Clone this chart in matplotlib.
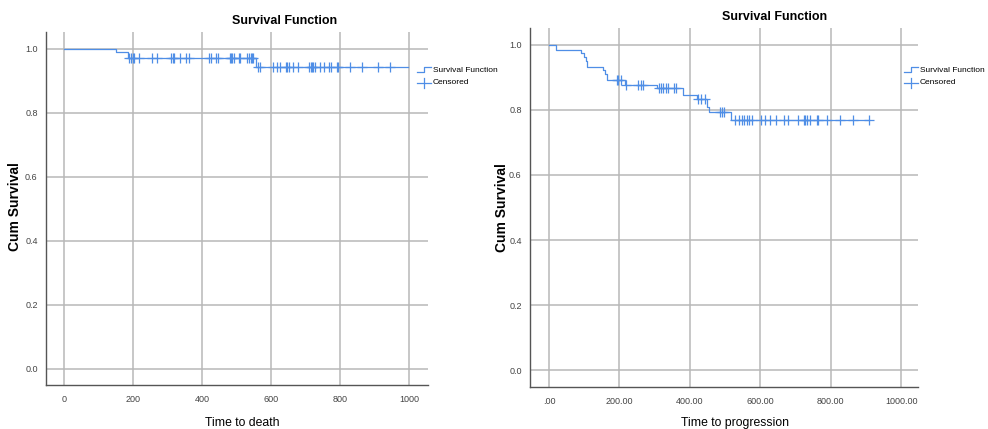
import numpy as np
import matplotlib
matplotlib.use('Agg')
import matplotlib.pyplot as plt
from matplotlib.lines import Line2D

plt.rcParams['font.family'] = ['Liberation Sans', 'DejaVu Sans']

# time to death (left panel)
death_times = [0, 151, 186, 556, 998]
death_surv = [1.0, 0.990, 0.973, 0.944, 0.944]
death_censored = [189, 194, 199, 204, 218, 254, 269, 310, 315, 320, 336, 354, 363,
                  421, 426, 441, 445, 481, 484, 488, 493, 506, 510, 530, 535, 541, 544, 549,
                  563, 568, 607, 617, 626, 643, 647, 651, 665, 679, 710, 715, 719, 723, 728,
                  742, 754, 768, 773, 790, 795, 829, 865, 911, 945]

# time to progression (right panel)
prog_times = [0, 21, 92, 100, 104, 108, 154, 160, 166, 215, 306, 381, 419, 448, 454, 517, 910]
prog_surv = [1.0, 0.985, 0.976, 0.963, 0.952, 0.932, 0.922, 0.912, 0.892, 0.878, 0.867,
             0.846, 0.834, 0.810, 0.795, 0.769, 0.769]
prog_censored = [192, 196, 204, 218, 253, 261, 267, 312, 318, 324, 331, 339, 356, 362,
                 424, 433, 443, 486, 490, 498, 527, 540, 547, 554, 561, 567, 576, 601, 614,
                 628, 645, 666, 680, 708, 723, 727, 732, 740, 761, 765, 789, 827, 863, 910]

x_ticks = [0, 200, 400, 600, 800, 1000]
y_ticks = [0.0, 0.2, 0.4, 0.6, 0.8, 1.0]

line_col = '#4f8ee6'
grid_col = '#b8b8b8'
W, H = 988, 429

fig = plt.figure(figsize=(W / 100, H / 100), dpi=100)


def fx(px):
    return px / W


def fy(py):
    return 1 - py / H


def panel(rect, times, surv, cens, xlim, ylim, xlabels):
    ax = fig.add_axes(rect)
    ax.plot(times, surv, drawstyle='steps-post', color=line_col, lw=0.9)
    idx = np.searchsorted(times, cens, side='right') - 1
    cy = np.array(surv)[idx]
    ax.plot(cens, cy, ls='none', marker='+', ms=6.5, mew=0.9, color=line_col)
    ax.set_xlim(*xlim)
    ax.set_ylim(*ylim)
    ax.set_xticks(x_ticks)
    ax.set_xticklabels(xlabels)
    ax.set_yticks(y_ticks)
    ax.set_yticklabels(['%.1f' % v for v in y_ticks])
    ax.tick_params(length=0, labelsize=6.5, labelcolor='#444444')
    ax.tick_params(axis='x', pad=7)
    ax.tick_params(axis='y', pad=6)
    ax.grid(True, color=grid_col, lw=1.1)
    ax.set_axisbelow(True)
    for s in ['top', 'right']:
        ax.spines[s].set_visible(False)
    for s in ['left', 'bottom']:
        ax.spines[s].set_color('#555555')
        ax.spines[s].set_linewidth(1.0)
    return ax


panel([fx(46), fy(385), fx(428) - fx(46), fy(32) - fy(385)],
      death_times, death_surv, death_censored, (-52, 1055), (-0.05, 1.053),
      [str(v) for v in x_ticks])
panel([fx(530), fy(387), fx(918) - fx(530), fy(28) - fy(387)],
      prog_times, prog_surv, prog_censored, (-54, 1048), (-0.052, 1.052),
      ['.00'] + ['%.2f' % v for v in x_ticks[1:]])

# titles and axis labels
fig.text(fx(285), fy(21), 'Survival Function', ha='center', va='center', fontsize=9, fontweight='bold')
fig.text(fx(775), fy(17), 'Survival Function', ha='center', va='center', fontsize=9, fontweight='bold')
fig.text(fx(15), fy(207), 'Cum Survival', rotation=90, ha='center', va='center', fontsize=10, fontweight='bold')
fig.text(fx(502), fy(208), 'Cum Survival', rotation=90, ha='center', va='center', fontsize=10, fontweight='bold')
fig.text(fx(242), fy(423), 'Time to death', ha='center', va='center', fontsize=8.8)
fig.text(fx(735), fy(423), 'Time to progression', ha='center', va='center', fontsize=8.8)


# legends
def legend(x0, x1, xs, y1):
    step_x = [x0, xs, xs, x1]
    step_y = [y1 + 1.5, y1 + 1.5, y1 - 3, y1 - 3]
    fig.add_artist(Line2D([fx(v) for v in step_x], [fy(v) for v in step_y],
                          transform=fig.transFigure, color=line_col, lw=0.9))
    yc = y1 + 13
    fig.add_artist(Line2D([fx(x0), fx(x1)], [fy(yc), fy(yc)],
                          transform=fig.transFigure, color=line_col, lw=0.9))
    fig.add_artist(Line2D([fx(xs), fx(xs)], [fy(yc - 5), fy(yc + 5)],
                          transform=fig.transFigure, color=line_col, lw=0.9))
    fig.text(fx(x1 + 1.5), fy(y1), 'Survival Function', ha='left', va='center', fontsize=6.0)
    fig.text(fx(x1 + 1.5), fy(yc), 'Censored', ha='left', va='center', fontsize=6.0)


legend(417, 431, 424, 70)
legend(904, 918, 911, 70)

fig.savefig('out.png', dpi=100)
